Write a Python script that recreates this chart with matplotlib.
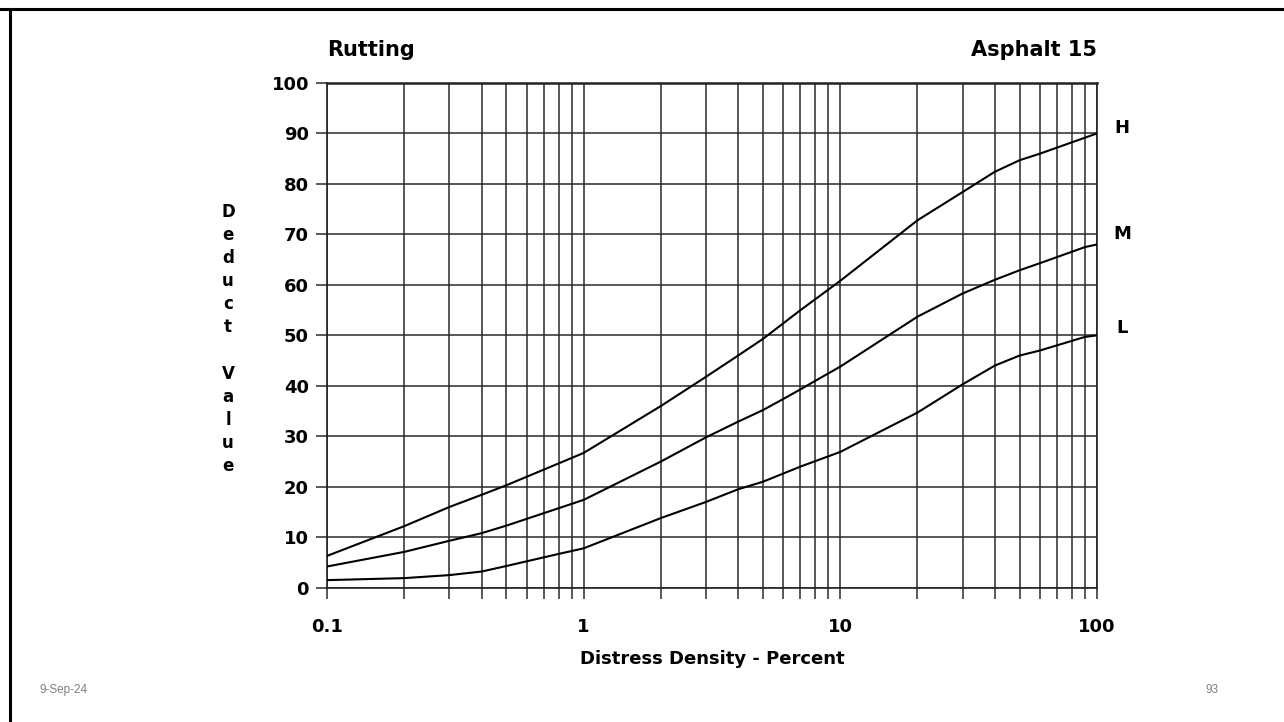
# Rutting deduct value curves (Asphalt 15) - log x grid chart on a slide

import matplotlib.pyplot as plt
from matplotlib.lines import Line2D
import numpy as np

# curve data
h_x = [0.1, 0.2, 0.3, 0.4, 0.5, 1, 2, 3, 4, 5, 7, 10, 20, 30, 40, 50, 60, 100]
h_y = [6.3, 12.2, 16, 18.4, 20.3, 26.7, 36, 41.8, 46, 49.3, 55, 60.8, 72.8, 78.4, 82.4, 84.7, 86, 90]

m_x = [0.1, 0.2, 0.3, 0.4, 0.5, 1, 2, 3, 4, 5, 6, 7, 8, 10, 20, 30, 40, 50, 60, 90, 100]
m_y = [4.2, 7.1, 9.3, 10.8, 12.3, 17.4, 25, 29.8, 32.9, 35.2, 37.4, 39.3, 41.0, 43.8, 53.7, 58.3, 61, 62.9, 64.3, 67.5, 68]

l_x = [0.1, 0.2, 0.3, 0.4, 0.5, 0.8, 1, 2, 3, 4, 5, 7, 10, 20, 30, 40, 50, 60, 90, 100]
l_y = [1.5, 1.9, 2.5, 3.2, 4.3, 6.7, 7.8, 13.8, 17, 19.5, 21, 24, 26.9, 34.7, 40.3, 44, 46, 47, 49.7, 50]

curve_names = ["H", "M", "L"]
curve_label_y = [91, 70, 51.5]

x_ticks = [0.1, 1, 10, 100]
x_tick_labels = ["0.1", "1", "10", "100"]
y_ticks = list(range(0, 101, 10))

FONT = "DejaVu Sans"

# ----------------------------------------------------------------
fig = plt.figure(figsize=(12.84, 7.22), dpi=100)
ax = fig.add_axes([0.2547, 0.186, 0.5995, 0.699])

for xs, ys in [(h_x, h_y), (m_x, m_y), (l_x, l_y)]:
    ax.plot(xs, ys, color="black", lw=1.5, zorder=3)

ax.set_xscale("log")
ax.set_xlim(0.1, 100)
ax.set_ylim(0, 100)

# log grid: every 1..9 in each decade
minor = [m * d for d in (0.1, 1, 10) for m in range(2, 10)]
ax.set_xticks(x_ticks)
ax.set_xticklabels(x_tick_labels, family=FONT, fontsize=13, fontweight="bold")
ax.set_xticks(minor, minor=True)
ax.set_xticklabels([], minor=True)
ax.set_yticks(y_ticks)
ax.set_yticklabels([str(v) for v in y_ticks], family=FONT, fontsize=13, fontweight="bold")

ax.grid(True, which="both", color="#2a2a2a", lw=1.1)
ax.tick_params(axis="x", which="both", direction="out", length=8, width=1.1,
               color="#2a2a2a", pad=14)
ax.tick_params(axis="y", which="major", direction="out", length=8, width=1.1,
               color="#2a2a2a", pad=5)
for s in ax.spines.values():
    s.set_color("#222222")
    s.set_linewidth(1.2)
ax.spines["top"].set_linewidth(1.8)

ax.set_xlabel("Distress Density - Percent", family=FONT, fontsize=13,
              fontweight="bold", labelpad=10)

# stacked y label letters
ylab = "Deduct Value"
for i, ch in enumerate(ylab):
    if ch == " ":
        continue
    fig.text(228 / 1284, 1 - (212 + 23.1 * i) / 722, ch, family=FONT,
             fontsize=12, fontweight="bold", ha="center", va="center")

# headings
ax.text(0.0, 1.045, "Rutting", transform=ax.transAxes, family=FONT,
        fontsize=15, fontweight="bold", ha="left", va="bottom")
ax.text(1.0, 1.045, "Asphalt 15", transform=ax.transAxes, family=FONT,
        fontsize=15, fontweight="bold", ha="right", va="bottom")

# curve names at the right end
for name, yv in zip(curve_names, curve_label_y):
    ax.text(1.033, yv, name, transform=ax.get_yaxis_transform(), family=FONT,
            fontsize=13, fontweight="bold", ha="center", va="center")

# slide footer
fig.text(40 / 1284, 1 - 690 / 722, "9-Sep-24", family="Liberation Sans",
         fontsize=8.5, color="#808080", ha="left", va="center")
fig.text(1218 / 1284, 1 - 690 / 722, "93", family="Liberation Sans",
         fontsize=8.5, color="#808080", ha="right", va="center")

# slide frame (top and left edges only)
fig.add_artist(Line2D([0, 1], [1 - 9 / 722, 1 - 9 / 722], color="black", lw=2.2,
                      transform=fig.transFigure))
fig.add_artist(Line2D([10 / 1284, 10 / 1284], [0, 1 - 9 / 722], color="black", lw=2.2,
                      transform=fig.transFigure))

fig.savefig("out.png", dpi=100)
